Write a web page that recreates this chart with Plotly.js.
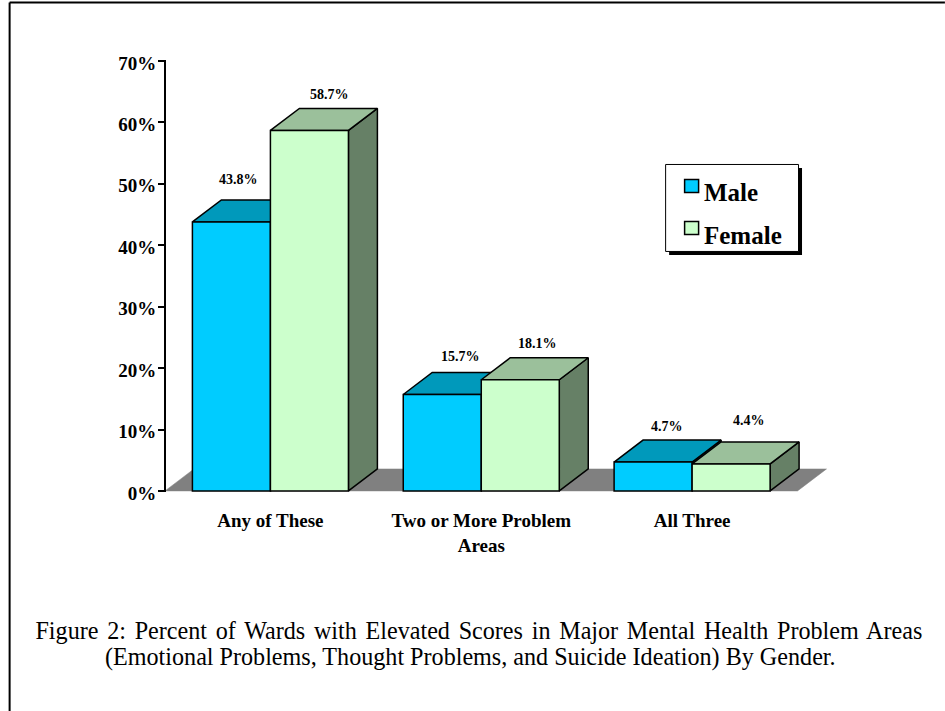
<!DOCTYPE html>
<html>
<head>
<meta charset="utf-8">
<script src="https://cdn.plot.ly/plotly-3.0.1.min.js"></script>
<style>
html,body{margin:0;padding:0;background:#fff;}
#chart{width:945px;height:711px;}
g.annotation[data-index="8"] text{word-spacing:2.7px;}
</style>
</head>
<body>
<div id="chart"></div>
<script>
var categories = ["Any of These", "Two or More Problem<br>Areas", "All Three"];
var maleValues = [43.8, 15.7, 4.7];
var femaleValues = [58.7, 18.1, 4.4];
var seriesNames = ["Male", "Female"];
var tickValues = [0, 10, 20, 30, 40, 50, 60, 70];
var tickLabels = ["0%", "10%", "20%", "30%", "40%", "50%", "60%", "70%"];
var captionLine1 = "Figure 2: Percent of Wards with Elevated Scores in Major Mental Health Problem Areas";
var captionLine2 = "(Emotional Problems, Thought Problems, and Suicide Ideation) By Gender.";

var W = 945, H = 711;
var yMin = -0.5, xMax = 2.654;
var L = 164.5, R = 830, T = 61, B = 491 + 0.5 * 430 / 70;
function px(x){ return (x - L) / (R - L); }
function py(y){ return (B - y) / (B - T); }

var barW = 0.37, depthX = 0.1374, depthY = 3.58;
var colors = {
  male:   {front: "#00CCFF", top: "#0099BB", side: "#006680"},
  female: {front: "#CCFFCC", top: "#9BC09B", side: "#668066"}
};
var edge = {color: "#000", width: 1.5};

function poly(xs, ys, fill, z, lineW){
  return {type: "scatter", mode: "lines", x: xs, y: ys, fill: "toself", fillcolor: fill,
    line: lineW === 0 ? {color: fill, width: 0.5} : {color: "#000", width: 1.5, shape: "linear"},
    cliponaxis: false, hoverinfo: "skip", showlegend: false, zorder: z};
}
function bar(values, name, offset, color, z){
  return {type: "bar", x: [0, 1, 2], y: values, name: name, width: barW, offset: offset,
    marker: {color: color, line: edge}, cliponaxis: false, showlegend: false, zorder: z};
}
var traces = [];
traces.push(poly(
  [-0.5, -0.5 + depthX, 2.5 + depthX, 2.5, -0.5],
  [0, depthY, depthY, 0, 0], "#808080", 0, 0));
function faces(values, offset, c, zBase){
  values.forEach(function(v, i){
    var x0 = i + offset, x1 = x0 + barW;
    traces.push(poly([x1, x1 + depthX, x1 + depthX, x1, x1],
      [0, depthY, v + depthY, v, 0], c.side, zBase));
    traces.push(poly([x0, x0 + depthX, x1 + depthX, x1, x0],
      [v, v + depthY, v + depthY, v, v], c.top, zBase));
  });
}
faces(maleValues, -barW, colors.male, 1);
traces.push(bar(maleValues, seriesNames[0], -barW, colors.male.front, 2));
faces(femaleValues, 0, colors.female, 3);
traces.push(bar(femaleValues, seriesNames[1], 0, colors.female.front, 4));

var labelX = [238, 460, 667, 329, 537, 749];
var labelY = [180, 357, 427, 95, 344, 421];
var labelValues = maleValues.concat(femaleValues);
var annotations = labelValues.map(function(v, i){
  return {xref: "paper", yref: "paper", x: px(labelX[i]), y: py(labelY[i]), text: "<b>" + v.toFixed(1) + "%</b>",
    showarrow: false, xanchor: "center", yanchor: "middle",
    font: {family: "Liberation Serif", size: 14, color: "#000"}};
});
annotations.push({xref:"paper",yref:"paper",x:px(702),y:py(193),text:"<b>" + seriesNames[0] + "</b>",showarrow:false,
  xanchor:"left",yanchor:"middle",font:{family:"Liberation Serif",size:25,color:"#000"}});
annotations.push({xref:"paper",yref:"paper",x:px(702),y:py(236),text:"<b>" + seriesNames[1] + "</b>",showarrow:false,
  xanchor:"left",yanchor:"middle",font:{family:"Liberation Serif",size:25,color:"#000"}});
annotations.push({xref:"paper",yref:"paper",x:px(478.5),y:py(631),text:captionLine1,showarrow:false,
  xanchor:"center",yanchor:"middle",font:{family:"Liberation Serif",size:24.13,color:"#000"}});
annotations.push({xref:"paper",yref:"paper",x:px(470),y:py(657),text:captionLine2,showarrow:false,
  xanchor:"center",yanchor:"middle",font:{family:"Liberation Serif",size:24.13,color:"#000"}});

function rect(x0, y0, x1, y1, fill, lineC, lineW){
  return {type: "rect", xref: "paper", yref: "paper", x0: px(x0), x1: px(x1), y0: py(y0), y1: py(y1),
    fillcolor: fill, line: {color: lineC, width: lineW}, layer: "above"};
}
function seg(x0, y0, x1, y1){
  return {type: "line", xref: "paper", yref: "paper", x0: px(x0), x1: px(x1), y0: py(y0), y1: py(y1),
    line: {color: "#000", width: 2}, layer: "above"};
}
var shapes = [
  seg(9, 2.5, 945, 2.5),
  seg(9, 2.5, 9, 711),
  seg(164.5, 60, 164.5, 492),
  rect(669, 168, 802, 255, "#000", "#000", 0),
  rect(665.5, 164.5, 798.5, 251.5, "#fff", "#000", 1),
  rect(684.5, 179.5, 698.5, 192.5, colors.male.front, "#000", 1.5),
  rect(684.5, 221.5, 698.5, 234.5, colors.female.front, "#000", 1.5)
];

var layout = {
  width: W, height: H, paper_bgcolor: "#fff", plot_bgcolor: "rgba(0,0,0,0)",
  margin: {l: L, r: W - R, t: T, b: H - B, pad: 0, autoexpand: false},
  barmode: "overlay", showlegend: false, hovermode: false,
  font: {family: "Liberation Serif", color: "#000"},
  xaxis: {type: "linear", range: [-0.5, xMax], tickmode: "array", tickvals: [0, 1, 2], ticktext: categories.map(function(c){return "<b>" + c.replace("<br>", "</b><br><b>") + "</b>";}),
    showline: false, showgrid: false, zeroline: false, ticks: "", ticklabelstandoff: 13,
    tickfont: {family: "Liberation Serif", size: 19, color: "#000"}, automargin: false},
  yaxis: {range: [yMin, 70], tickmode: "array", tickvals: tickValues, ticktext: tickLabels.map(function(t){return "<b>" + t + "</b>";}),
    showline: false, ticks: "outside", ticklen: 6, tickwidth: 2, tickcolor: "#000", ticklabelstandoff: -2, ticklabelshift: 2,
    showgrid: false, zeroline: false, tickfont: {family: "Liberation Serif", size: 19, color: "#000"}, automargin: false},
  annotations: annotations, shapes: shapes
};
Plotly.newPlot("chart", traces, layout, {displayModeBar: false, staticPlot: true});
</script>
</body>
</html>
